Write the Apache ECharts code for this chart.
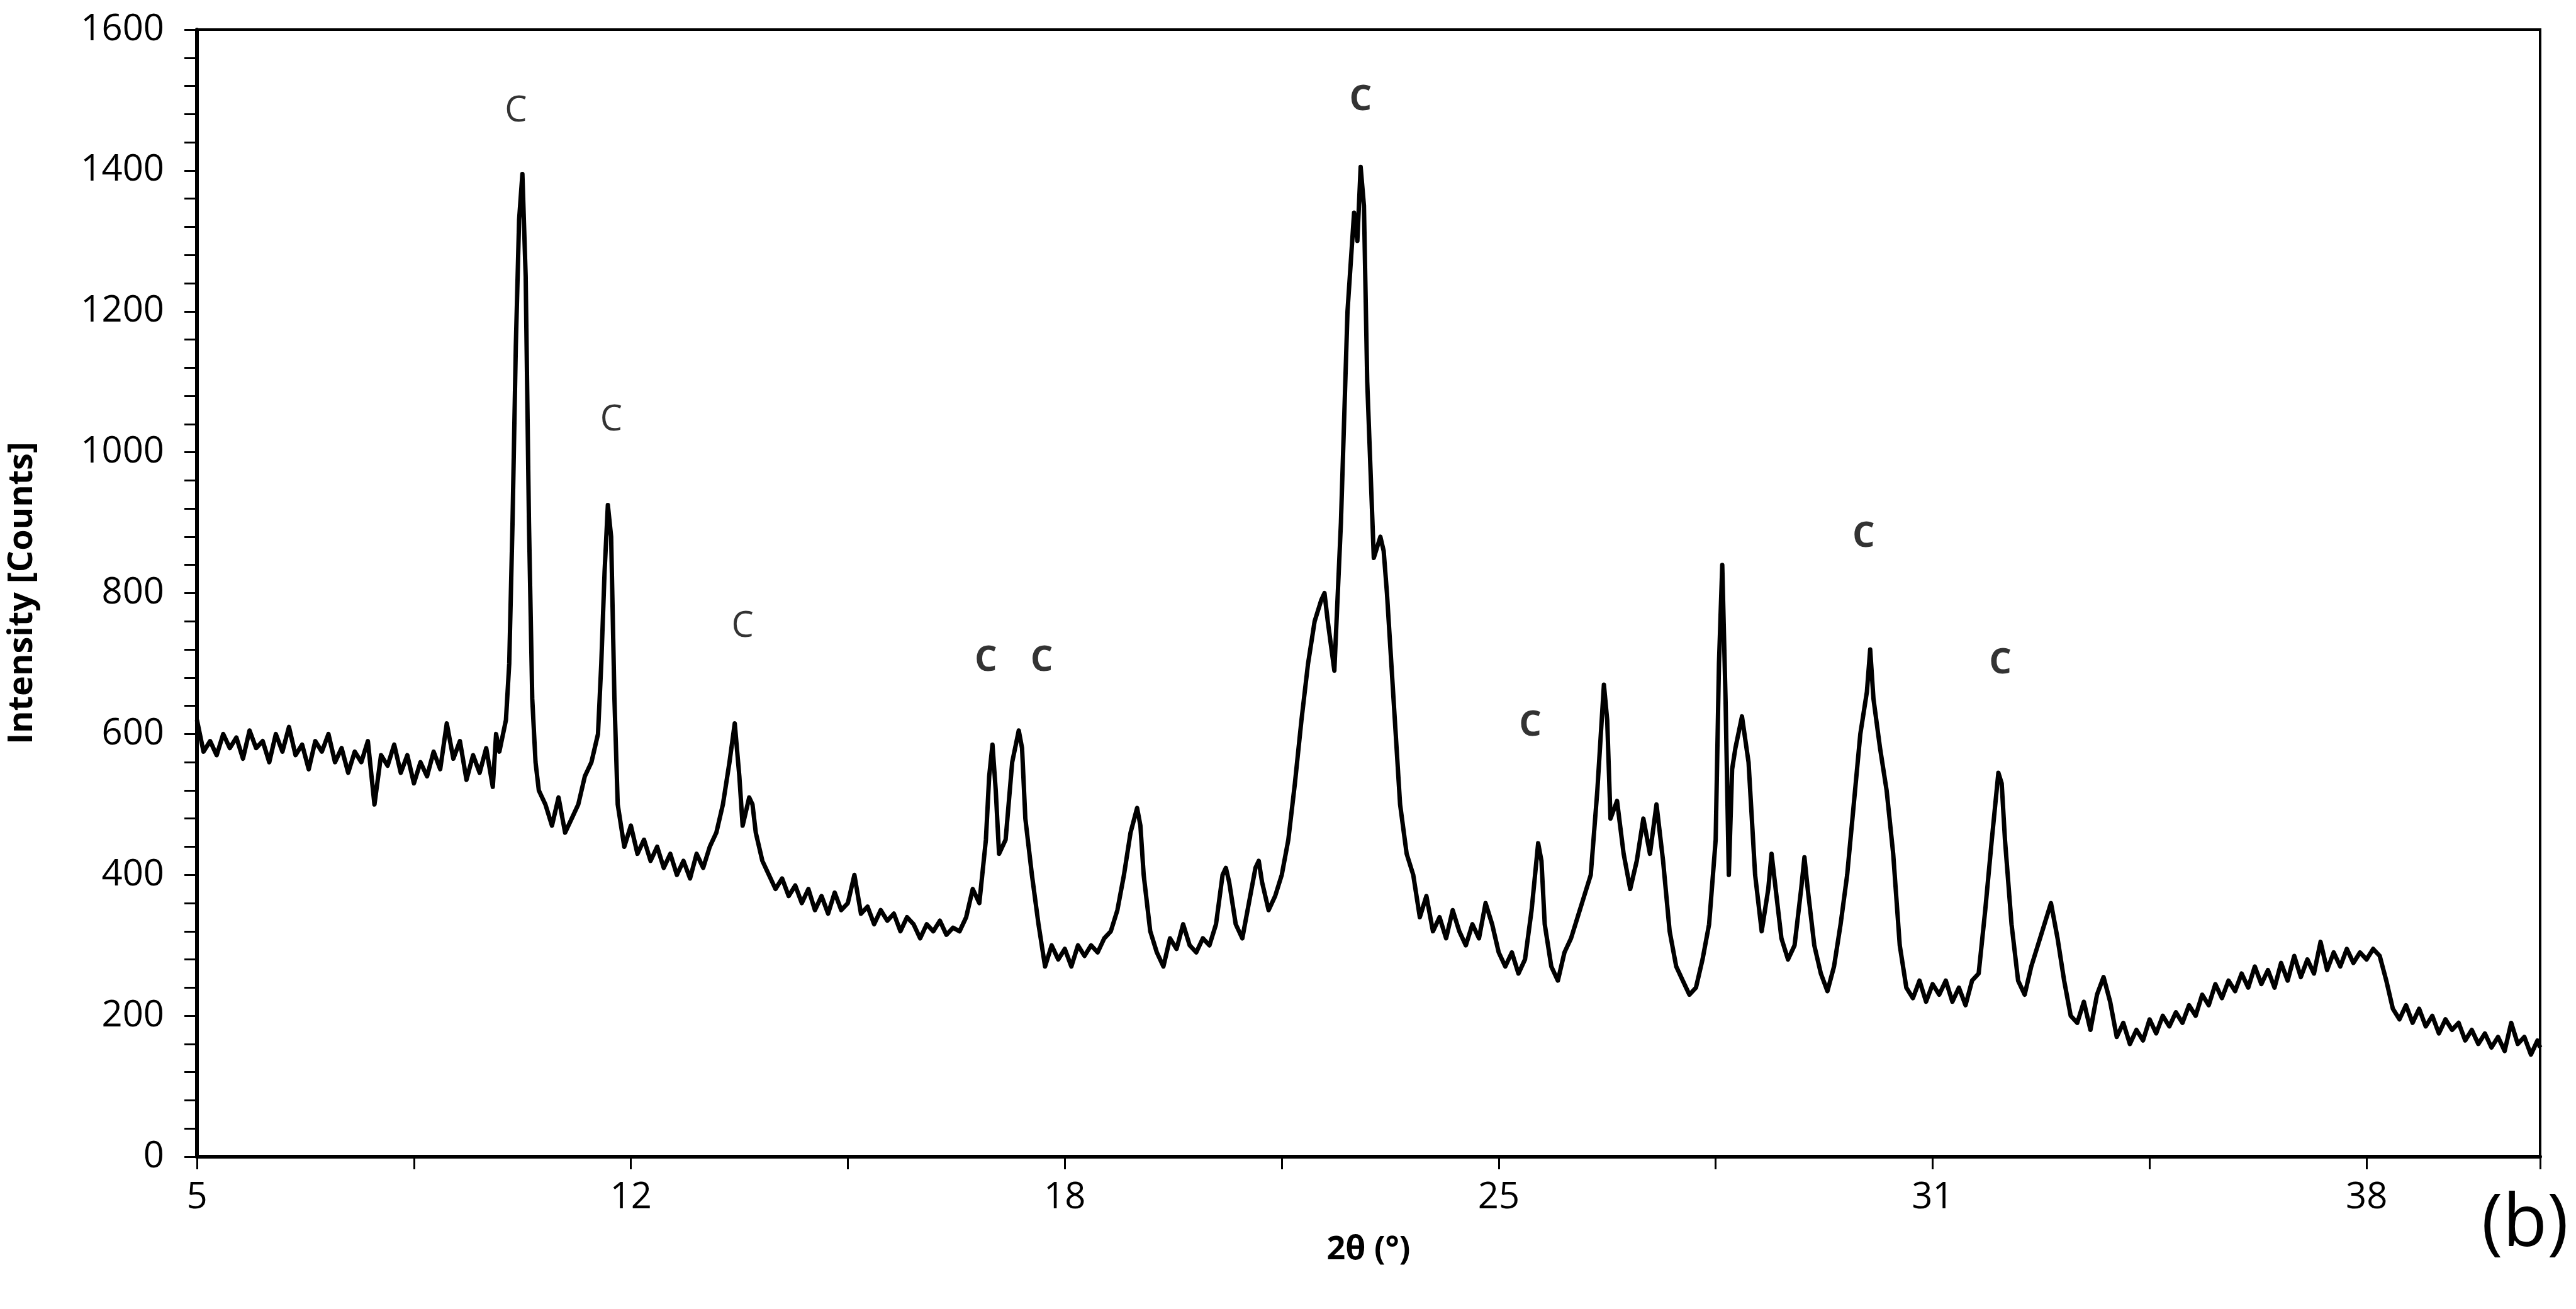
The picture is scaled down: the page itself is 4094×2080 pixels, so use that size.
<!DOCTYPE html>
<html>
<head>
<meta charset="utf-8">
<script src="https://cdn.jsdelivr.net/npm/echarts@6/dist/echarts.min.js"></script>
<style>html,body{margin:0;padding:0;background:#fff}#main{width:4094px;height:2080px}</style>
</head>
<body>
<div id="main"></div>
<script>
// 2θ (deg) / intensity (counts)
var pattern = [
 [5.0,620],[5.1,575],[5.2,590],[5.3,570],[5.4,600],[5.5,580],[5.6,595],[5.7,565],[5.8,605],[5.9,580],
 [6.0,590],[6.1,560],[6.2,600],[6.3,575],[6.4,610],[6.5,570],[6.6,585],[6.7,550],[6.8,590],[6.9,575],
 [7.0,600],[7.1,560],[7.2,580],[7.3,545],[7.4,575],[7.5,560],[7.6,590],[7.7,500],[7.8,570],[7.9,555],
 [8.0,585],[8.1,545],[8.2,570],[8.3,530],[8.4,560],[8.5,540],[8.6,575],[8.7,550],[8.8,615],[8.9,565],
 [9.0,590],[9.1,535],[9.2,570],[9.3,545],[9.4,580],[9.5,525],[9.55,600],[9.6,575],
 [9.7,620],[9.75,700],[9.8,900],[9.85,1150],[9.9,1330],[9.95,1395],[10.0,1250],[10.05,900],[10.1,650],
 [10.15,560],[10.2,520],[10.3,500],[10.4,470],[10.5,510],[10.6,460],[10.7,480],[10.8,500],[10.9,540],
 [11.0,560],[11.1,600],[11.15,700],[11.2,830],[11.25,925],[11.3,880],[11.35,650],[11.4,500],[11.5,440],
 [11.6,470],[11.7,430],[11.8,450],[11.9,420],[12.0,440],[12.1,410],[12.2,430],[12.3,400],[12.4,420],
 [12.5,395],[12.6,430],[12.7,410],[12.8,440],[12.9,460],[13.0,500],[13.1,560],[13.18,615],[13.25,540],
 [13.3,470],[13.4,510],[13.45,500],[13.5,460],[13.6,420],[13.7,400],[13.8,380],[13.9,395],[14.0,370],
 [14.1,385],[14.2,360],[14.3,380],[14.4,350],[14.5,370],[14.6,345],[14.7,375],[14.8,350],[14.9,360],
 [15.0,400],[15.1,345],[15.2,355],[15.3,330],[15.4,350],[15.5,335],[15.6,345],[15.7,320],[15.8,340],
 [15.9,330],[16.0,310],[16.1,330],[16.2,320],[16.3,335],[16.4,315],[16.5,325],[16.6,320],[16.7,340],
 [16.8,380],[16.9,360],[17.0,450],[17.05,540],[17.1,585],[17.15,520],[17.2,430],[17.3,450],[17.4,560],
 [17.5,605],[17.55,580],[17.6,480],[17.7,400],[17.8,330],[17.9,270],[18.0,300],[18.1,280],[18.2,295],
 [18.3,270],[18.4,300],[18.5,285],[18.6,300],[18.7,290],[18.8,310],[18.9,320],[19.0,350],[19.1,400],
 [19.2,460],[19.3,495],[19.35,470],[19.4,400],[19.5,320],[19.6,290],[19.7,270],[19.8,310],[19.9,295],
 [20.0,330],[20.1,300],[20.2,290],[20.3,310],[20.4,300],[20.5,330],[20.6,400],[20.65,410],[20.7,390],
 [20.8,330],[20.9,310],[21.0,360],[21.1,410],[21.15,420],[21.2,390],[21.3,350],[21.4,370],[21.5,400],
 [21.6,450],[21.7,530],[21.8,620],[21.9,700],[22.0,760],[22.1,790],[22.15,800],[22.2,760],[22.3,690],
 [22.4,900],[22.5,1200],[22.6,1340],[22.65,1300],[22.7,1405],[22.75,1350],[22.8,1100],[22.9,850],
 [23.0,880],[23.05,860],[23.1,800],[23.2,650],[23.3,500],[23.4,430],[23.5,400],[23.6,340],[23.7,370],
 [23.8,320],[23.9,340],[24.0,310],[24.1,350],[24.2,320],[24.3,300],[24.4,330],[24.5,310],[24.6,360],
 [24.7,330],[24.8,290],[24.9,270],[25.0,290],[25.1,260],[25.2,280],[25.3,350],[25.4,445],[25.45,420],
 [25.5,330],[25.6,270],[25.7,250],[25.8,290],[25.9,310],[26.0,340],[26.1,370],[26.2,400],[26.3,520],
 [26.4,670],[26.45,620],[26.5,480],[26.6,505],[26.7,430],[26.8,380],[26.9,420],[27.0,480],[27.1,430],
 [27.2,500],[27.3,420],[27.4,320],[27.5,270],[27.6,250],[27.7,230],[27.8,240],[27.9,280],[28.0,330],
 [28.1,450],[28.15,700],[28.2,840],[28.25,650],[28.3,400],[28.35,550],[28.4,580],[28.5,625],[28.6,560],
 [28.7,400],[28.8,320],[28.9,380],[28.95,430],[29.0,390],[29.1,310],[29.2,280],[29.3,300],[29.4,380],
 [29.45,425],[29.5,380],[29.6,300],[29.7,260],[29.8,235],[29.9,270],[30.0,330],[30.1,400],[30.2,500],
 [30.3,600],[30.4,660],[30.45,720],[30.5,650],[30.6,580],[30.7,520],[30.8,430],[30.9,300],[31.0,240],
 [31.1,225],[31.2,250],[31.3,220],[31.4,245],[31.5,230],[31.6,250],[31.7,220],[31.8,240],[31.9,215],
 [32.0,250],[32.1,260],[32.2,350],[32.3,450],[32.4,545],[32.45,530],[32.5,450],[32.6,330],[32.7,250],
 [32.8,230],[32.9,270],[33.0,300],[33.1,330],[33.2,360],[33.3,310],[33.4,250],[33.5,200],[33.6,190],
 [33.7,220],[33.8,180],[33.9,230],[34.0,255],[34.1,220],[34.2,170],[34.3,190],[34.4,160],[34.5,180],
 [34.6,165],[34.7,195],[34.8,175],[34.9,200],[35.0,185],[35.1,205],[35.2,190],[35.3,215],[35.4,200],
 [35.5,230],[35.6,215],[35.7,245],[35.8,225],[35.9,250],[36.0,235],[36.1,260],[36.2,240],[36.3,270],
 [36.4,245],[36.5,265],[36.6,240],[36.7,275],[36.8,250],[36.9,285],[37.0,255],[37.1,280],[37.2,260],
 [37.3,305],[37.4,265],[37.5,290],[37.6,270],[37.7,295],[37.8,275],[37.9,290],[38.0,280],[38.1,295],
 [38.2,285],[38.3,250],[38.4,210],[38.5,195],[38.6,215],[38.7,190],[38.8,210],[38.9,185],[39.0,200],
 [39.1,175],[39.2,195],[39.3,180],[39.4,190],[39.5,165],[39.6,180],[39.7,160],[39.8,175],[39.9,155],
 [40.0,170],[40.1,150],[40.2,190],[40.3,160],[40.4,170],[40.5,145],[40.6,165],[40.64,155]
];

// "C" peak markers: position of the letter
var markerX = [9.85, 11.3, 13.3, 17.0, 17.85, 22.7, 25.28, 30.35, 32.43];
var markerY = [1484, 1045, 752, 704, 704, 1500, 612, 880, 700];
var markerBold = [false, false, false, true, true, true, true, true, true];

var font = "'Open Sans', sans-serif";

var markers = markerX.map(function (x, i) {
  return {
    value: [x, markerY[i]],
    label: { fontWeight: markerBold[i] ? 'bold' : 'normal' }
  };
});

var option = {
  backgroundColor: '#fff',
  animation: false,
  grid: { left: 313, right: 57, top: 47, bottom: 242, show: true, borderColor: '#000', borderWidth: 4, backgroundColor: 'transparent' },
  xAxis: {
    type: 'value', min: 5, max: 40.64, interval: 6.6,
    name: '2θ (°)', nameLocation: 'middle', nameGap: 122,
    nameTextStyle: { fontFamily: font, fontSize: 52, fontWeight: 'bold', color: '#000' },
    axisLine: { lineStyle: { color: '#000', width: 6 } },
    axisTick: { inside: false, length: 20, lineStyle: { color: '#000', width: 3 } },
    minorTick: { show: true, splitNumber: 2, length: 20, lineStyle: { color: '#000', width: 3 } },
    splitLine: { show: false },
    axisLabel: { showMaxLabel: false, margin: 36, fontFamily: font, fontSize: 58, color: '#000',
      formatter: function (v) { return Math.round(v); } }
  },
  yAxis: {
    type: 'value', min: 0, max: 1600, interval: 200,
    name: 'Intensity [Counts]', nameLocation: 'middle', nameGap: 250,
    nameTextStyle: { fontFamily: font, fontSize: 54, fontWeight: 'bold', color: '#000' },
    axisLine: { lineStyle: { color: '#000', width: 6 } },
    axisTick: { inside: false, length: 20, lineStyle: { color: '#000', width: 3 } },
    minorTick: { show: true, splitNumber: 5, length: 20, lineStyle: { color: '#000', width: 3 } },
    splitLine: { show: false },
    axisLabel: { margin: 52, fontFamily: font, fontSize: 58, color: '#000',
      formatter: function (v) { return String(v); } }
  },
  series: [
    {
      type: 'line', data: pattern, symbol: 'none', silent: true,
      lineStyle: { color: '#000', width: 7, join: 'round' }
    },
    {
      type: 'scatter', data: markers, symbolSize: 0, silent: true,
      label: { show: true, position: 'inside', formatter: 'C', fontFamily: font, fontSize: 56, color: '#000' }
    }
  ],
  graphic: [
    { type: 'text', right: 12, top: 1890, style: { text: '(b)', fontFamily: font, fontSize: 115, fill: '#000' } }
  ]
};

var myChart = echarts.init(document.getElementById('main'));
myChart.setOption(option);
</script>
</body>
</html>
